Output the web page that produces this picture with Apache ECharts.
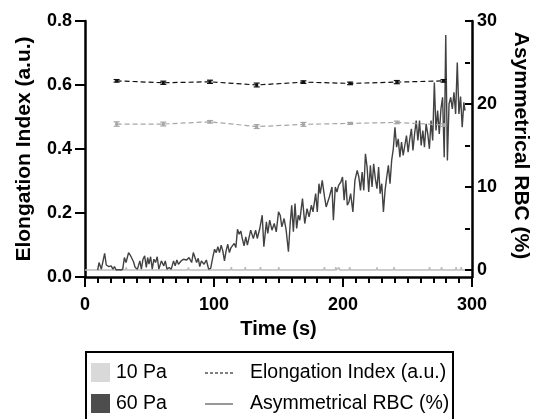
<!DOCTYPE html>
<html>
<head>
<meta charset="utf-8">
<script src="https://cdn.jsdelivr.net/npm/echarts@6/dist/echarts.min.js"></script>
<style>
    html, body { margin: 0; padding: 0; background: #fff; }
    #main { width: 539px; height: 419px; }
</style>
</head>
<body>
<div id="main"></div>
<script>
var element = document.querySelector('#main')
var myChart = echarts.init(element)

const font = '"Liberation Sans", Arial, sans-serif'

// Elongation index, one reading every ~36 s
const eiTime = [24.5, 60.7, 96.9, 133.1, 169.3, 205.5, 241.7, 277.9]
const ei60 = [0.613, 0.607, 0.610, 0.600, 0.609, 0.605, 0.609, 0.613]
const ei60Err = [0.004, 0.005, 0.005, 0.006, 0.004, 0.004, 0.005, 0.004]
const ei10 = [0.478, 0.478, 0.485, 0.470, 0.477, 0.480, 0.483, 0.475]
const ei10Err = [0.007, 0.006, 0.004, 0.006, 0.006, 0.003, 0.004, 0.004]

// Asymmetrical RBC (%), [time, value]
const rbc10 = [
    [0, 0], [32, 0], [32.5, 0.3], [33, 0], [81, 0], [81.6, 0.3], [82.2, 0],
    [115, 0], [115.5, 0.35], [116, 0], [126, 0], [126.5, 0.35], [127, 0],
    [138, 0], [138.5, 0.35], [139, 0], [152.5, 0], [153, 0.35], [153.5, 0],
    [188.5, 0], [189, 0.35], [189.5, 0], [197.5, 0], [198, 0.35], [198.5, 0],
    [200, 0], [200.5, 0.3], [201, 0], [208.5, 0], [209, 0.35], [209.5, 0],
    [230, 0], [230.5, 0.3], [231, 0], [243.5, 0], [244, 0.35], [244.5, 0],
    [271.5, 0], [272, 0.35], [272.5, 0], [281, 0], [281.5, 0.35], [282, 0],
    [292.5, 0], [293, 0.35], [293.5, 0], [296.5, 0], [297, 0.35], [297.5, 0], [300, 0]
]
const rbc60 = [
    [10, 0], [11.1, 0.9], [12.9, 0.1], [14.2, 0.3], [15.5, 2.0], [16.8, 0.6], [18.9, 0.4], [20.7, 0.5],
    [22, 0.1], [23.3, 0.4], [24.6, 0], [26.5, 0.05], [28.2, 0], [29.8, 0.1], [31.1, 1.5], [32.4, 0.9],
    [34.4, 2.1], [35.7, 1.8], [37, 1.6], [38.3, 1.0], [39.6, 0.3], [41.4, 0.1], [43.3, 1.1], [44.5, 0.1],
    [45.8, 1.3], [47.1, 1.7], [48.4, 0.3], [49.5, 1.5], [50.5, 0.7], [51.8, 1.6], [53.1, 0.1], [54.4, 1.3],
    [55.7, 0.9], [57, 1.6], [58.3, 0.1], [60.3, 1.1], [62.2, 0.5], [63.4, 1.1], [64.7, 0.1], [66.4, 0.3],
    [68.1, 0.1], [69.9, 1.1], [71.2, 0.5], [72.5, 1.2], [73.8, 0.7], [75.9, 1.1], [77.7, 1.3], [79, 1.1],
    [80.3, 1.2], [82.1, 1.5], [84.2, 0.9], [85.5, 2.1], [86.8, 1.5], [88.1, 0.9], [89.4, 1.4], [90.6, 0.4],
    [91.9, 1.1], [94, 0.7], [95.8, 1.2], [97.6, 0.1], [99.2, 0.2], [101, 1.6], [102.3, 2.5], [103.6, 2.1],
    [104.9, 2.8], [106.2, 2.1], [107.5, 3.0], [108.8, 2.3], [110.1, 1.1], [111.4, 2.3], [112.7, 3.1], [114, 2.1],
    [115.3, 2.7], [116.5, 2.5], [117.8, 3.2], [119.1, 2.7], [120.4, 4.9], [121.7, 4.3], [123, 4.7], [124.3, 3.7],
    [125.6, 2.9], [126.9, 4.0], [128.2, 3.0], [130.8, 4.8], [132.9, 3.8], [134.7, 4.8], [136, 3.8], [138, 5.0],
    [139.9, 6.6], [141.2, 2.8], [143.2, 5.8], [144.3, 4.4], [145.8, 6.0], [147.6, 4.8], [149.4, 5.6], [151, 4.6],
    [152.8, 7.0], [154.1, 6.6], [155.4, 5.2], [157.2, 6.2], [158.8, 4.8], [160.6, 2.2], [161.9, 5.4], [163.2, 7.8],
    [164.5, 4.6], [165.8, 8.0], [167.1, 5.0], [168.4, 6.6], [169.6, 6.0], [171.7, 8.6], [173.5, 5.6], [175.3, 7.4],
    [176.9, 6.4], [178.7, 7.8], [180, 7.0], [182.1, 9.2], [183.4, 7.0], [184.7, 10.4], [185.7, 9.2], [187.3, 10.8],
    [189.1, 8.8], [190.4, 7.6], [191.7, 7.4], [192.9, 8.8], [195, 10.0], [196.1, 6.0], [197.6, 10.0], [198.9, 9.4],
    [200.2, 10.2], [202, 10.6], [203.3, 11.2], [204.6, 8.4], [205.9, 10.8], [207.1, 7.8], [208.4, 8.2], [209.7, 9.2],
    [211.5, 7.0], [213.1, 10.8], [214.9, 12.0], [216.2, 11.2], [217.5, 9.6], [218.8, 11.8], [220.1, 9.6], [221.4, 14.0],
    [222.7, 12.4], [224, 9.4], [225.3, 12.6], [226.6, 10.0], [227.9, 12.8], [229.2, 11.0], [230.5, 9.8], [231.8, 12.4],
    [233, 9.2], [234.3, 10.4], [235.6, 7.0], [236.9, 9.6], [238.2, 11.2], [239.5, 12.6], [240.8, 10.4], [242.1, 13.2],
    [243.4, 14.6], [244.7, 17.2], [246, 14.8], [247.3, 15.8], [248.6, 13.6], [249.9, 15.4], [251.2, 13.8], [252.5, 15.0],
    [253.8, 16.2], [255.1, 14.2], [256.4, 15.8], [257.7, 17.0], [258.9, 14.4], [260.2, 16.4], [261.5, 18.0], [262.8, 15.6],
    [264.1, 18.0], [265.4, 15.0], [266.7, 16.8], [268, 14.8], [269.3, 17.6], [270.6, 16.4], [271.9, 14.6], [273.2, 18.0],
    [274.5, 15.6], [275.8, 22.6], [277.1, 16.8], [278.4, 19.2], [279.7, 16.4], [281, 19.4], [282.3, 20.8], [283.6, 13.6],
    [284.8, 28.3], [286.1, 13.2], [287.4, 20.0], [288.7, 20.8], [290, 19.4], [291.3, 21.4], [292.6, 18.8], [293.9, 25.0],
    [295.2, 18.8], [296.5, 20.9], [297.8, 17.2], [299.1, 20.2], [300, 19.2]
]

const pairs = (xs, ys) => xs.map((x, i) => [x, ys[i]])
const errRows = (xs, ys, es) => xs.map((x, i) => [x, ys[i] - es[i], ys[i] + es[i]])

const errorBars = (color) => {
    return (params, api) => {
        let x = api.value(0)
        let lo = api.coord([x, api.value(1)])
        let hi = api.coord([x, api.value(2)])
        let w = 3
        let style = { stroke: color, lineWidth: 1.2 }
        return {
            type: 'group',
            children: [
                { type: 'line', shape: { x1: lo[0], y1: lo[1], x2: hi[0], y2: hi[1] }, style: style },
                { type: 'line', shape: { x1: lo[0] - w, y1: lo[1], x2: lo[0] + w, y2: lo[1] }, style: style },
                { type: 'line', shape: { x1: hi[0] - w, y1: hi[1], x2: hi[0] + w, y2: hi[1] }, style: style },
            ]
        }
    }
}

const axisLine = { show: true, onZero: false, lineStyle: { color: '#000', width: 2.5 } }
const noLine = { show: false, onZero: false }
const tickLine = { color: '#000', width: 2 }
const tickLabel = { color: '#000', fontSize: 18, fontWeight: 'bold', fontFamily: font }
const xNameStyle = { color: '#000', fontSize: 20, fontWeight: 'bold', fontFamily: font }
const yNameStyle = { color: '#000', fontSize: 21, fontWeight: 'bold', fontFamily: font }

// grid 0: x axis + elongation index; grid 1: same box but its bottom is the RBC 0 line,
// which sits a few pixels above the x axis in the original
let option = {
    animation: false,
    textStyle: { fontFamily: font },
    grid: [
        { left: 85, right: 67, top: 21, bottom: 142 },
        { left: 85, right: 67, top: 21, bottom: 149 },
    ],
    xAxis: [
        {
            gridIndex: 0,
            type: 'value',
            min: 0,
            max: 300,
            interval: 100,
            name: 'Time (s)',
            nameLocation: 'middle',
            nameGap: 42,
            nameTextStyle: xNameStyle,
            axisLine: axisLine,
            axisTick: { show: true, length: 10, lineStyle: tickLine },
            minorTick: { show: true, splitNumber: 10, length: 6, lineStyle: tickLine },
            axisLabel: Object.assign({ margin: 19 }, tickLabel),
            splitLine: { show: false },
            minorSplitLine: { show: false },
        },
        {
            gridIndex: 1,
            type: 'value',
            min: 0,
            max: 300,
            show: false,
            axisLine: noLine,
        },
    ],
    yAxis: [
        {
            gridIndex: 0,
            type: 'value',
            position: 'left',
            min: 0,
            max: 0.8,
            interval: 0.2,
            name: 'Elongation Index (a.u.)',
            nameLocation: 'middle',
            nameGap: 50,
            nameTextStyle: yNameStyle,
            axisLine: axisLine,
            axisTick: { show: true, length: 10, lineStyle: tickLine },
            axisLabel: Object.assign({ margin: 13, formatter: (v) => v.toFixed(1) }, tickLabel),
            splitLine: { show: false },
        },
        {
            // right axis line down to the x axis
            gridIndex: 0,
            type: 'value',
            position: 'right',
            min: 0,
            max: 1,
            axisLine: axisLine,
            axisTick: { show: false },
            axisLabel: { show: false },
            splitLine: { show: false },
        },
        {
            gridIndex: 1,
            type: 'value',
            position: 'right',
            min: 0,
            max: 30,
            interval: 10,
            name: 'Asymmetrical RBC (%)',
            nameLocation: 'middle',
            nameGap: 45,
            nameRotate: -90,
            nameTextStyle: yNameStyle,
            axisLine: noLine,
            axisTick: { show: true, length: 8, lineStyle: tickLine },
            minorTick: { show: true, splitNumber: 2, length: 5, lineStyle: tickLine },
            axisLabel: Object.assign({ margin: 12 }, tickLabel),
            splitLine: { show: false },
            minorSplitLine: { show: false },
        },
    ],
    series: [
        {
            name: '10 Pa RBC',
            type: 'line',
            xAxisIndex: 1,
            yAxisIndex: 2,
            data: rbc10,
            symbol: 'none',
            clip: false,
            lineStyle: { color: '#bdbdbd', width: 1.5 },
            z: 2,
        },
        {
            name: '60 Pa RBC',
            type: 'line',
            xAxisIndex: 1,
            yAxisIndex: 2,
            data: rbc60,
            symbol: 'none',
            clip: false,
            lineStyle: { color: '#424242', width: 1.4 },
            z: 3,
        },
        {
            name: '10 Pa EI',
            type: 'line',
            xAxisIndex: 0,
            yAxisIndex: 0,
            data: pairs(eiTime, ei10),
            symbol: 'rect',
            symbolSize: 3,
            itemStyle: { color: '#a6a6a6' },
            lineStyle: { color: '#a6a6a6', width: 1.2, type: [5, 3] },
            z: 4,
        },
        {
            name: '60 Pa EI',
            type: 'line',
            xAxisIndex: 0,
            yAxisIndex: 0,
            data: pairs(eiTime, ei60),
            symbol: 'rect',
            symbolSize: 3,
            itemStyle: { color: '#111' },
            lineStyle: { color: '#111', width: 1.2, type: [5, 3] },
            z: 4,
        },
        {
            type: 'custom',
            xAxisIndex: 0,
            yAxisIndex: 0,
            renderItem: errorBars('#a6a6a6'),
            data: errRows(eiTime, ei10, ei10Err),
            encode: { x: 0, y: [1, 2] },
            z: 5,
        },
        {
            type: 'custom',
            xAxisIndex: 0,
            yAxisIndex: 0,
            renderItem: errorBars('#111'),
            data: errRows(eiTime, ei60, ei60Err),
            encode: { x: 0, y: [1, 2] },
            z: 5,
        },
    ],
    graphic: [
        { type: 'rect', shape: { x: 86, y: 352, width: 367, height: 100 }, style: { fill: 'none', stroke: '#000', lineWidth: 2 } },
        { type: 'rect', shape: { x: 91, y: 363, width: 19, height: 19 }, style: { fill: '#d9d9d9' } },
        { type: 'rect', shape: { x: 91, y: 394, width: 19, height: 19 }, style: { fill: '#4d4d4d' } },
        { type: 'text', x: 116, y: 373, style: { text: '10 Pa', fill: '#000', fontSize: 19.5, fontFamily: font, verticalAlign: 'middle' } },
        { type: 'text', x: 116, y: 404, style: { text: '60 Pa', fill: '#000', fontSize: 19.5, fontFamily: font, verticalAlign: 'middle' } },
        { type: 'line', shape: { x1: 205, y1: 373, x2: 233, y2: 373 }, style: { stroke: '#000', lineWidth: 1, lineDash: [3, 2] } },
        { type: 'line', shape: { x1: 205, y1: 404, x2: 233, y2: 404 }, style: { stroke: '#333', lineWidth: 1 } },
        { type: 'text', x: 250, y: 373, style: { text: 'Elongation Index (a.u.)', fill: '#000', fontSize: 19.5, fontFamily: font, verticalAlign: 'middle' } },
        { type: 'text', x: 250, y: 404, style: { text: 'Asymmetrical RBC (%)', fill: '#000', fontSize: 19.5, fontFamily: font, verticalAlign: 'middle' } },
    ],
}

myChart.setOption(option)
</script>
</body>
</html>
